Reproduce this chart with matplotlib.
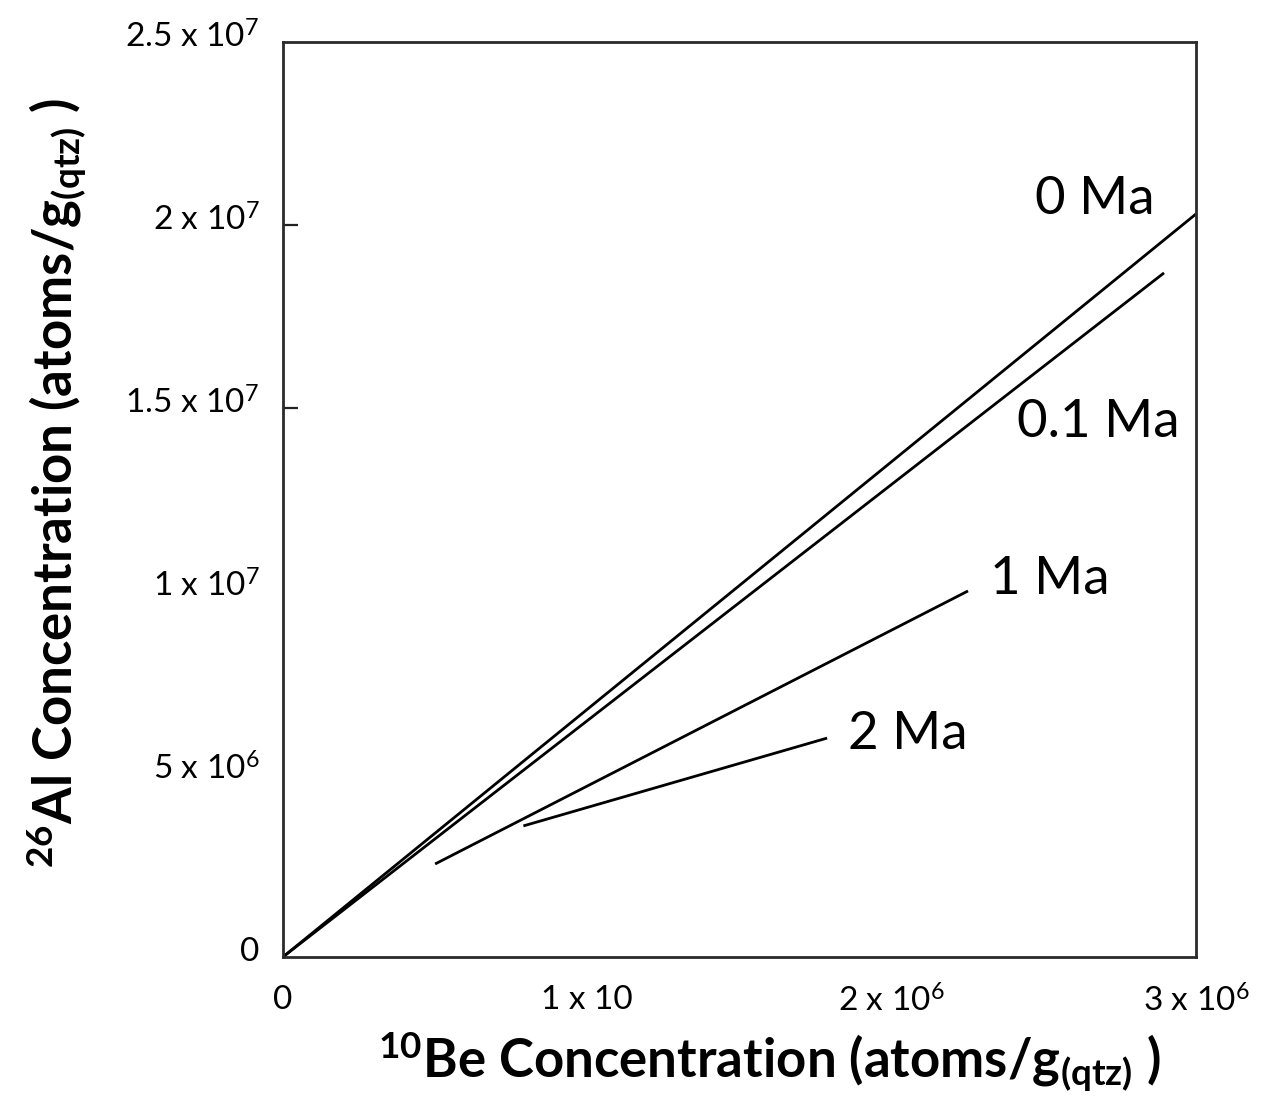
import matplotlib
matplotlib.use("Agg")
import matplotlib.pyplot as plt
import matplotlib.transforms as mtransforms

plt.rcParams['font.family'] = ['Lato', 'DejaVu Sans']
plt.rcParams['mathtext.fontset'] = 'custom'
plt.rcParams['mathtext.rm'] = 'Lato'
plt.rcParams['mathtext.it'] = 'Lato:italic'
plt.rcParams['mathtext.bf'] = 'Lato:bold'

# Isochron segments: 10Be (atoms/g) vs 26Al (atoms/g) for burial times
ages = ["0 Ma", "0.1 Ma", "1 Ma", "2 Ma"]
be10_start = [0.0, 0.0, 0.50e6, 0.79e6]
be10_end = [3.0e6, 2.895e6, 2.251e6, 1.788e6]
al26_start = [0.0, 0.0, 2.54e6, 3.58e6]
al26_end = [20.30e6, 18.69e6, 10.0e6, 5.98e6]

x_ticks = [0, 1e6, 2e6, 3e6]
x_ticklabels = ["0", "1 x 10", r"2 x 10$^{6}$", r"3 x 10$^{6}$"]
y_ticks = [0, 5e6, 1e7, 1.5e7, 2e7, 2.5e7]
y_ticklabels = ["0", r"5 x 10$^{6}$", r"1 x 10$^{7}$", r"1.5 x 10$^{7}$",
                r"2 x 10$^{7}$", r"2.5 x 10$^{7}$"]
y_marked = [1.5e7, 2e7]

fig = plt.figure(figsize=(12.66, 11.04), dpi=100)
ax = fig.add_axes([0.2235, 0.1332, 0.9447 - 0.2235, 0.962 - 0.1332])

for xs, xe, ys, ye in zip(be10_start, be10_end, al26_start, al26_end):
    ax.plot([xs, xe], [ys, ye], color="black", lw=2.0, solid_capstyle="butt")

ax.set_xlim(0, 3e6)
ax.set_ylim(0, 2.5e7)

ax.set_xticks(x_ticks)
ax.set_xticklabels(x_ticklabels, fontsize=24)
ax.set_yticks(y_ticks)
ax.set_yticklabels(y_ticklabels, fontsize=24)
ax.tick_params(axis="both", length=0)
ax.tick_params(axis="x", pad=20)
ax.tick_params(axis="y", pad=17)

# short inward marks at two of the y positions
ax.yaxis.remove_overlapping_locs = False
ax.set_yticks(y_marked, minor=True)
ax.tick_params(axis="y", which="minor", direction="in", length=11, width=1.6,
               color="#222222")

# nudge y tick labels slightly upward
for lab in ax.get_yticklabels():
    lab.set_transform(lab.get_transform() +
                      mtransforms.ScaledTranslation(0, 8 / 100, fig.dpi_scale_trans))

for s in ax.spines.values():
    s.set_linewidth(2.0)
    s.set_color("#2a2a2a")

ax.set_xlabel(r"$^{\mathbf{10}}$Be Concentration (atoms/g$_{\mathbf{(qtz)}}$ )",
              fontsize=38, fontweight="bold", labelpad=8)
ax.set_ylabel(r"$^{\mathbf{26}}$Al Concentration (atoms/g$_{\mathbf{(qtz)}}$ )",
              fontsize=38, fontweight="bold", labelpad=27)
ax.xaxis.label.set_x(0.533)
ax.yaxis.label.set_y(0.518)

ax.text(2.471e6, 20.7e6, "0 Ma", fontsize=38, ha="left", va="center")
ax.text(2.412e6, 14.6e6, "0.1 Ma", fontsize=38, ha="left", va="center")
ax.text(2.323e6, 10.3e6, "1 Ma", fontsize=38, ha="left", va="center")
ax.text(1.857e6, 6.07e6, "2 Ma", fontsize=38, ha="left", va="center")

fig.savefig("out.png", dpi=100)
